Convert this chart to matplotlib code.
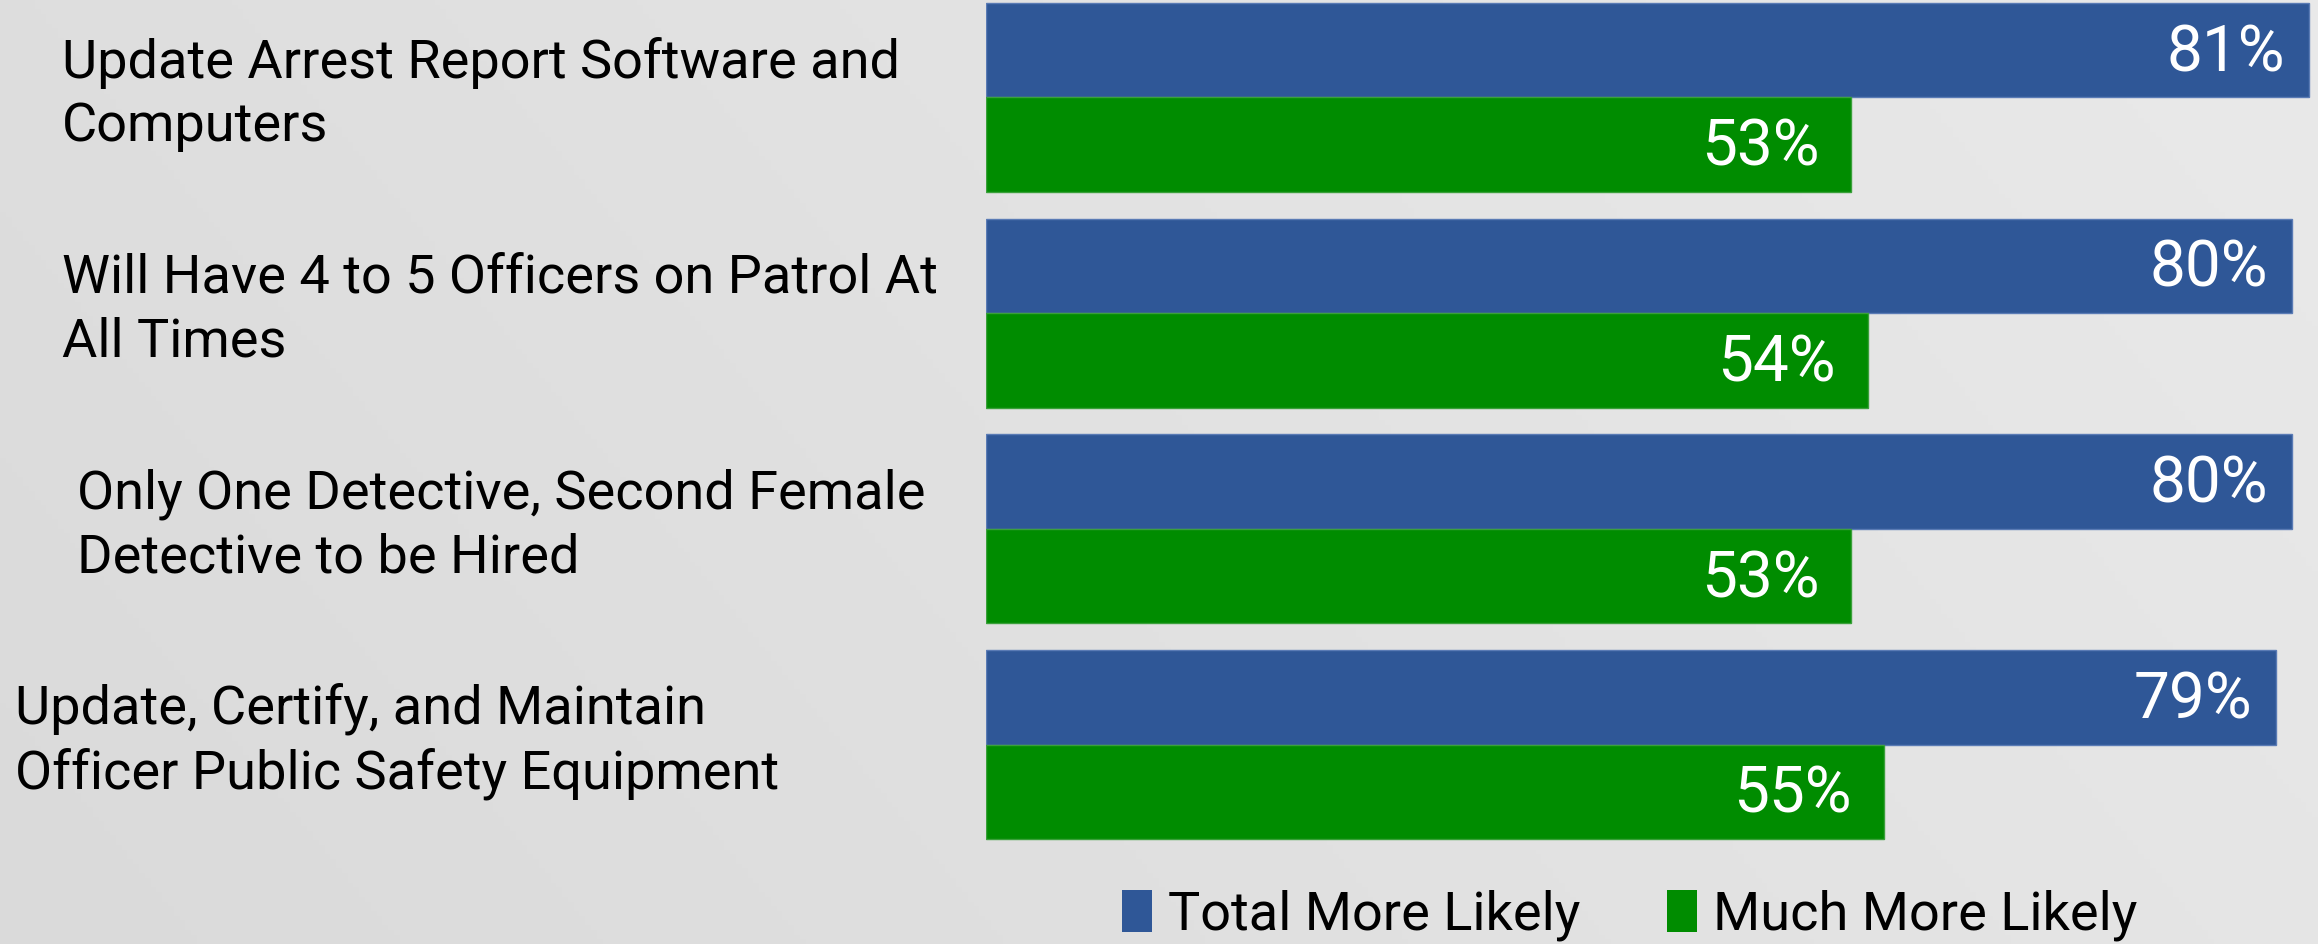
import numpy as np
import matplotlib
matplotlib.use("Agg")
import matplotlib.pyplot as plt
import matplotlib.transforms as mtransforms
from matplotlib.patches import Patch

plt.rcParams['font.family'] = ['Roboto', 'DejaVu Sans']

categories = [
    "Update Arrest Report Software and\nComputers",
    "Will Have 4 to 5 Officers on Patrol At\nAll Times",
    "Only One Detective, Second Female\nDetective to be Hired",
    "Update, Certify, and Maintain\nOfficer Public Safety Equipment",
]
total_more_likely = [81, 80, 80, 79]
much_more_likely = [53, 54, 53, 55]
series_names = ["Total More Likely", "Much More Likely"]

# layout / style
W, H = 2318, 944
BLUE = "#2F5797"
GREEN = "#008C00"
label_x_px = [62, 62, 77, 15]
bar_h = 0.438

fig = plt.figure(figsize=(W / 100, H / 100), dpi=100)

# background gradient
bg = fig.add_axes([0, 0, 1, 1], zorder=-10)
xx = np.linspace(0, 1, 400)
yy = np.linspace(0, 1, 200)
X, Y = np.meshgrid(xx, yy)
G = 0.855 + 0.06 * (0.75 * X + 0.25 * (1 - Y))
bg.imshow(np.dstack([G, G, G]), extent=[0, 1, 0, 1], aspect='auto', origin='upper')
bg.set_axis_off()

ax = fig.add_axes([986 / W, 0, 1 - 986 / W, 1])
ax.set_facecolor('none')
ax.patch.set_alpha(0)
ax.set_xlim(0, 81.57)
ax.set_ylim(3.925, -0.452)
ax.set_axis_off()

y = np.arange(len(categories))
b1 = ax.barh(y - bar_h / 2, total_more_likely, height=bar_h, color=BLUE,
             edgecolor="#5a7bb5", linewidth=1.0)
b2 = ax.barh(y + bar_h / 2, much_more_likely, height=bar_h, color=GREEN,
             edgecolor="#3aa03a", linewidth=1.0)

for yi, v in zip(y - bar_h / 2, total_more_likely):
    ax.annotate(f"{v}%", (v, yi), xytext=(-24, -3), textcoords='offset pixels',
                ha='right', va='center', color='white', fontsize=46)
for yi, v in zip(y + bar_h / 2, much_more_likely):
    ax.annotate(f"{v}%", (v, yi), xytext=(-32, -3), textcoords='offset pixels',
                ha='right', va='center', color='white', fontsize=46)

trans = mtransforms.blended_transform_factory(fig.transFigure, ax.transData)
for i, lab in enumerate(categories):
    fig.text(label_x_px[i] / W, i - 0.015, lab, transform=trans, ha='left',
             va='center', fontsize=39, color='black', linespacing=1.31)

handles = [Patch(facecolor=BLUE), Patch(facecolor=GREEN)]
fig.legend(handles, series_names, loc='center', bbox_to_anchor=(0.703, 0.03),
           ncol=2, frameon=False, fontsize=39, handlelength=0.55, handleheight=0.8,
           handletextpad=0.3, columnspacing=1.6, borderpad=0)

fig.savefig("out.png", dpi=100)
